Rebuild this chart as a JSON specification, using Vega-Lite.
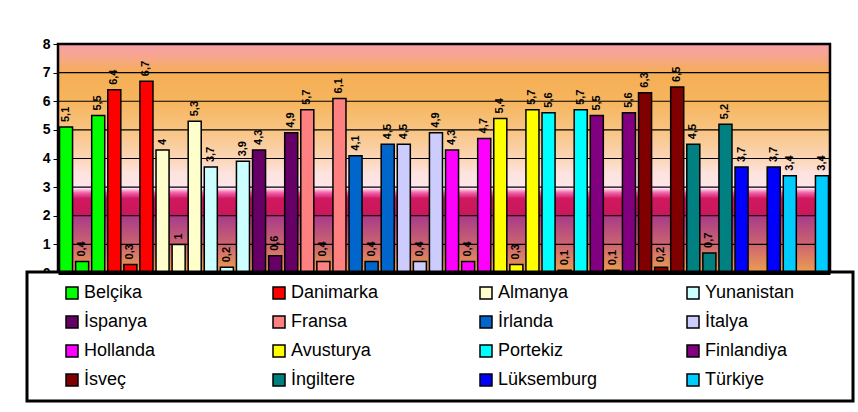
{
  "$schema": "https://vega.github.io/schema/vega-lite/v6.json",
  "width": 772,
  "height": 229,
  "autosize": {"type": "none"},
  "padding": {"left": 58, "top": 44, "right": 28, "bottom": 139},
  "background": "white",
  "config": {
    "font": "Liberation Sans",
    "view": {"stroke": null},
    "legend": {"strokeColor": "black", "strokeWidth": 3, "fillColor": "white", "padding": 12},
    "axisY": {
      "tickCount": 8, "grid": false,
      "domainColor": "black", "domainWidth": 3,
      "tickColor": "black", "tickSize": 5, "tickWidth": 1,
      "labelFontWeight": "bold", "labelFontSize": 14, "labelColor": "black",
      "labelPadding": 3, "labelOverlap": false, "labelFlush": false, "zindex": 1
    }
  },
  "datasets": {
    "grid": [{"v": 1}, {"v": 2}, {"v": 3}, {"v": 4}, {"v": 5}, {"v": 6}, {"v": 7}],
    "bars": [
      {"country": "Belçika", "seri": "A", "value": 5.1, "label": "5,1"},
      {"country": "Belçika", "seri": "B", "value": 0.4, "label": "0,4"},
      {"country": "Belçika", "seri": "C", "value": 5.5, "label": "5,5"},
      {"country": "Danimarka", "seri": "A", "value": 6.4, "label": "6,4"},
      {"country": "Danimarka", "seri": "B", "value": 0.3, "label": "0,3"},
      {"country": "Danimarka", "seri": "C", "value": 6.7, "label": "6,7"},
      {"country": "Almanya", "seri": "A", "value": 4.3, "label": "4"},
      {"country": "Almanya", "seri": "B", "value": 1, "label": "1"},
      {"country": "Almanya", "seri": "C", "value": 5.3, "label": "5,3"},
      {"country": "Yunanistan", "seri": "A", "value": 3.7, "label": "3,7"},
      {"country": "Yunanistan", "seri": "B", "value": 0.2, "label": "0,2"},
      {"country": "Yunanistan", "seri": "C", "value": 3.9, "label": "3,9"},
      {"country": "İspanya", "seri": "A", "value": 4.3, "label": "4,3"},
      {"country": "İspanya", "seri": "B", "value": 0.6, "label": "0,6"},
      {"country": "İspanya", "seri": "C", "value": 4.9, "label": "4,9"},
      {"country": "Fransa", "seri": "A", "value": 5.7, "label": "5,7"},
      {"country": "Fransa", "seri": "B", "value": 0.4, "label": "0,4"},
      {"country": "Fransa", "seri": "C", "value": 6.1, "label": "6,1"},
      {"country": "İrlanda", "seri": "A", "value": 4.1, "label": "4,1"},
      {"country": "İrlanda", "seri": "B", "value": 0.4, "label": "0,4"},
      {"country": "İrlanda", "seri": "C", "value": 4.5, "label": "4,5"},
      {"country": "İtalya", "seri": "A", "value": 4.5, "label": "4,5"},
      {"country": "İtalya", "seri": "B", "value": 0.4, "label": "0,4"},
      {"country": "İtalya", "seri": "C", "value": 4.9, "label": "4,9"},
      {"country": "Hollanda", "seri": "A", "value": 4.3, "label": "4,3"},
      {"country": "Hollanda", "seri": "B", "value": 0.4, "label": "0,4"},
      {"country": "Hollanda", "seri": "C", "value": 4.7, "label": "4,7"},
      {"country": "Avusturya", "seri": "A", "value": 5.4, "label": "5,4"},
      {"country": "Avusturya", "seri": "B", "value": 0.3, "label": "0,3"},
      {"country": "Avusturya", "seri": "C", "value": 5.7, "label": "5,7"},
      {"country": "Portekiz", "seri": "A", "value": 5.6, "label": "5,6"},
      {"country": "Portekiz", "seri": "B", "value": 0.1, "label": "0,1"},
      {"country": "Portekiz", "seri": "C", "value": 5.7, "label": "5,7"},
      {"country": "Finlandiya", "seri": "A", "value": 5.5, "label": "5,5"},
      {"country": "Finlandiya", "seri": "B", "value": 0.1, "label": "0,1"},
      {"country": "Finlandiya", "seri": "C", "value": 5.6, "label": "5,6"},
      {"country": "İsveç", "seri": "A", "value": 6.3, "label": "6,3"},
      {"country": "İsveç", "seri": "B", "value": 0.2, "label": "0,2"},
      {"country": "İsveç", "seri": "C", "value": 6.5, "label": "6,5"},
      {"country": "İngiltere", "seri": "A", "value": 4.5, "label": "4,5"},
      {"country": "İngiltere", "seri": "B", "value": 0.7, "label": "0,7"},
      {"country": "İngiltere", "seri": "C", "value": 5.2, "label": "5,2"},
      {"country": "Lüksemburg", "seri": "A", "value": 3.7, "label": "3,7"},
      {"country": "Lüksemburg", "seri": "C", "value": 3.7, "label": "3,7"},
      {"country": "Türkiye", "seri": "A", "value": 3.4, "label": "3,4"},
      {"country": "Türkiye", "seri": "C", "value": 3.4, "label": "3,4"}
    ]
  },
  "layer": [
    {
      "data": {"values": [{"lo": 0, "hi": 8}]},
      "mark": {
        "type": "rect",
        "stroke": "black",
        "strokeWidth": 2.5,
        "fill": {
          "gradient": "linear",
          "x1": 0, "y1": 0, "x2": 0, "y2": 1,
          "stops": [
            {"offset": 0, "color": "#F7A0A8"},
            {"offset": 0.06, "color": "#F6A68A"},
            {"offset": 0.125, "color": "#F5AE55"},
            {"offset": 0.25, "color": "#F6B55E"},
            {"offset": 0.375, "color": "#F8C482"},
            {"offset": 0.5, "color": "#FBD5B6"},
            {"offset": 0.56, "color": "#FDE2DC"},
            {"offset": 0.623, "color": "#FEE6EA"},
            {"offset": 0.63, "color": "#FFE8F4"},
            {"offset": 0.65, "color": "#F060A8"},
            {"offset": 0.675, "color": "#D01860"},
            {"offset": 0.747, "color": "#C8185A"},
            {"offset": 0.753, "color": "#A83C88"},
            {"offset": 0.875, "color": "#CC6470"},
            {"offset": 1, "color": "#EEA050"}
          ]
        }
      },
      "encoding": {
        "y": {"field": "hi", "type": "quantitative", "title": null, "scale": {"domain": [0, 8], "nice": false}},
        "y2": {"field": "lo"}
      }
    },
    {
      "data": {"name": "grid"},
      "mark": {"type": "rule", "color": "black", "strokeWidth": 1.2},
      "encoding": {
        "y": {"field": "v", "type": "quantitative", "title": null}
      }
    },
    {
      "data": {"name": "bars"},
      "mark": {"type": "bar", "stroke": "black", "strokeWidth": 1.5, "opacity": 1},
      "encoding": {
        "x": {
          "field": "country", "type": "nominal", "title": null,
          "scale": {
            "domain": ["Belçika", "Danimarka", "Almanya", "Yunanistan", "İspanya", "Fransa", "İrlanda", "İtalya", "Hollanda", "Avusturya", "Portekiz", "Finlandiya", "İsveç", "İngiltere", "Lüksemburg", "Türkiye"],
            "paddingInner": 0, "paddingOuter": 0
          },
          "axis": {"labels": false, "ticks": false, "domainColor": "black", "domainWidth": 3, "zindex": 1, "title": null}
        },
        "xOffset": {"field": "seri", "type": "nominal", "scale": {"paddingInner": 0.19, "paddingOuter": 0.095}},
        "y": {"field": "value", "type": "quantitative", "title": null, "scale": {"domain": [0, 8], "nice": false}},
        "color": {
          "field": "country", "type": "nominal",
          "scale": {
            "domain": ["Belçika", "Danimarka", "Almanya", "Yunanistan", "İspanya", "Fransa", "İrlanda", "İtalya", "Hollanda", "Avusturya", "Portekiz", "Finlandiya", "İsveç", "İngiltere", "Lüksemburg", "Türkiye"],
            "range": ["#00FF00", "#FF0000", "#FFFFCC", "#CCFFFF", "#660066", "#FF8080", "#0066CC", "#CCCCFF", "#FF00FF", "#FFFF00", "#00FFFF", "#800080", "#800000", "#008080", "#0000FF", "#00CCFF"]
          },
          "legend": {
            "orient": "none", "legendX": -31, "legendY": 228,
            "direction": "horizontal", "columns": 4, "gridAlign": "all",
            "symbolType": "square", "symbolSize": 144,
            "symbolStrokeColor": "black", "symbolStrokeWidth": 1.5,
            "symbolOffset": 24, "labelOffset": 3,
            "labelFontSize": 18, "labelFont": "Liberation Sans", "labelColor": "black", "labelLimit": 250,
            "rowPadding": 11, "columnPadding": 62,
            "title": "Ülke", "titleOpacity": 0, "titleOrient": "right", "titlePadding": 13, "titleFontSize": 16
          }
        }
      }
    },
    {
      "data": {"name": "bars"},
      "mark": {"type": "text", "angle": 270, "align": "left", "baseline": "middle", "dx": 5, "fontSize": 11, "fontWeight": "bold", "font": "Liberation Sans", "color": "black"},
      "encoding": {
        "x": {"field": "country", "type": "nominal", "title": null},
        "xOffset": {"field": "seri", "type": "nominal"},
        "y": {"field": "value", "type": "quantitative", "title": null},
        "text": {"field": "label", "type": "nominal"}
      }
    }
  ]
}
